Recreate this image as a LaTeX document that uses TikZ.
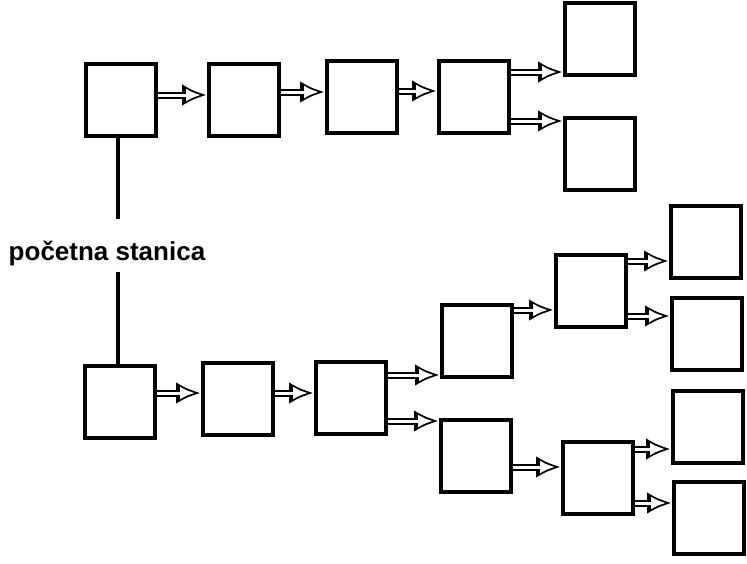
\documentclass[tikz,border=0pt]{standalone}
\usepackage{fontspec}
\setmainfont{Liberation Sans}
\usetikzlibrary{arrows.meta}

\tikzset{
  stanica/.style={draw, line width=4pt, minimum width=70pt,
    minimum height=72pt, inner sep=0pt},
  strelica/.style={line width=7pt, -{Latex[length=25pt, width=22pt]},
    postaction={draw=white, line width=3pt, shorten >=6pt,
      -{Latex[length=15pt, width=13pt]}}},
  veza/.style={line width=4pt},
}

\begin{document}
\begin{tikzpicture}[x=1pt, y=-1pt]
        \useasboundingbox (0,0) rectangle (747,563);

        % gornja linija
        \node[stanica] (a1) at (121, 100) {};
        \node[stanica] (a2) at (244, 100) {};
        \node[stanica] (a3) at (362, 97) {};
        \node[stanica] (a4) at (474, 97) {};
        \node[stanica] (a5) at (600, 39) {};
        \node[stanica] (a6) at (600, 154) {};

        % donja linija
        \node[stanica] (b1) at (120, 402) {};
        \node[stanica] (b2) at (238, 399) {};
        \node[stanica] (b3) at (351, 398) {};
        \node[stanica] (b4) at (477, 341) {};
        \node[stanica] (b5) at (476, 456) {};
        \node[stanica] (c1) at (591, 291) {};
        \node[stanica] (c2) at (598, 478) {};
        \node[stanica] (d1) at (706, 242) {};
        \node[stanica] (d2) at (707, 334) {};
        \node[stanica] (d3) at (708, 427) {};
        \node[stanica] (d4) at (709, 518) {};

        % pocetna stanica
        \node[font=\bfseries\fontsize{26}{30}\selectfont, inner sep=0pt,
            anchor=base] (start) at (107, 260) {početna stanica};
        \draw[veza, shorten >=21pt] ([xshift=-3pt]a1.south)
            -- ([xshift=-3pt]a1.south |- start.north);
        \draw[veza, shorten <=6pt] ([xshift=-2pt]b1.north |- start.south)
            -- ([xshift=-2pt]b1.north);

        % strelice gore
        \draw[strelica] (a1.east |- 0,95) -- (a2.west |- 0,95);
        \draw[strelica] (a2.east |- 0,92) -- (a3.west |- 0,92);
        \draw[strelica] (a3.east |- 0,91) -- (a4.west |- 0,91);
        \draw[strelica] (a4.east |- 0,72) -- (a5.west |- 0,72);
        \draw[strelica] (a4.east |- 0,121) -- (a6.west |- 0,121);

        % strelice dolje
        \draw[strelica] (b1.east |- 0,393) -- (b2.west |- 0,393);
        \draw[strelica] (b2.east |- 0,393) -- (b3.west |- 0,393);
        \draw[strelica] (b3.east |- 0,375) -- (b4.west |- 0,375);
        \draw[strelica] (b3.east |- 0,421) -- (b5.west |- 0,421);
        \draw[strelica] (b4.east |- 0,310) -- (c1.west |- 0,310);
        \draw[strelica] (b5.east |- 0,467) -- (c2.west |- 0,467);
        \draw[strelica] (c1.east |- 0,261) -- (d1.west |- 0,261);
        \draw[strelica] (c1.east |- 0,316) -- (d2.west |- 0,316);
        \draw[strelica] (c2.east |- 0,449) -- (d3.west |- 0,449);
        \draw[strelica] (c2.east |- 0,503) -- (d4.west |- 0,503);
    \end{tikzpicture}
\end{document}
